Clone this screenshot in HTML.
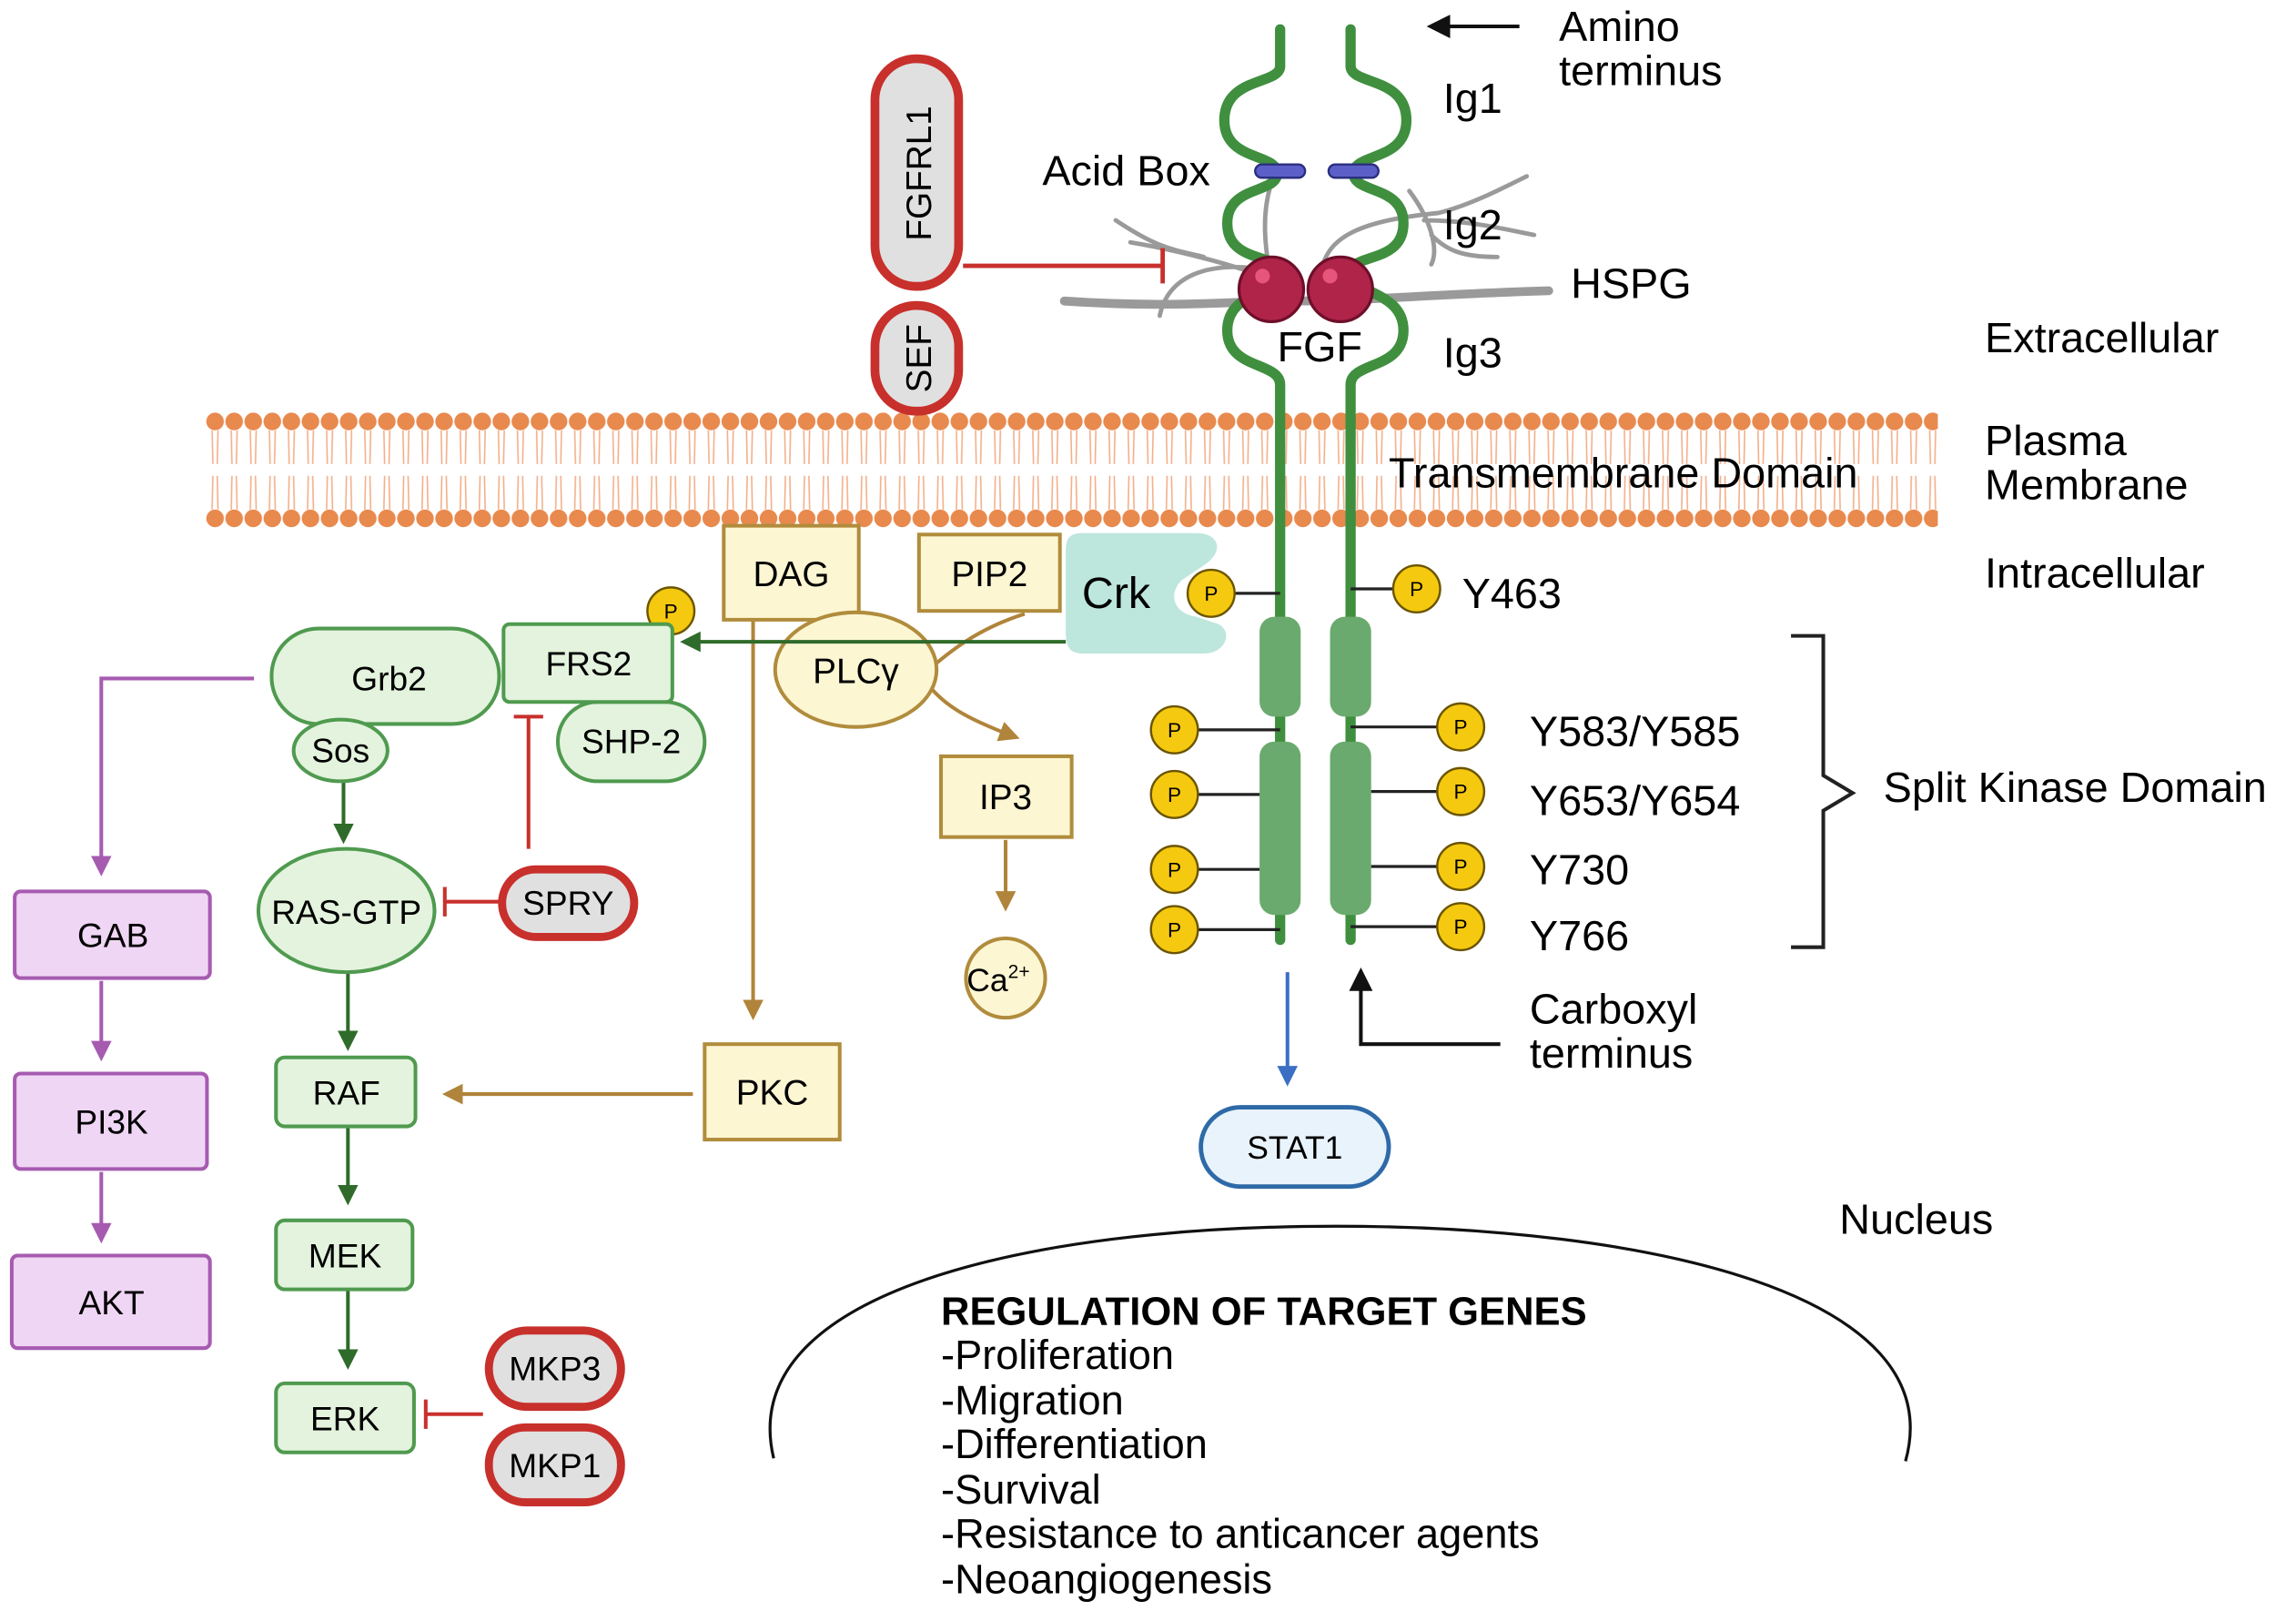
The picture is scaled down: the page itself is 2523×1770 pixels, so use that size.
<!DOCTYPE html>
<html><head><meta charset="utf-8"><style>
html,body{margin:0;padding:0;background:#fff;}
svg{display:block;}
text{font-family:"Liberation Sans",sans-serif;}
</style></head><body>
<svg width="2523" height="1770" viewBox="0 0 1564 1097" preserveAspectRatio="none" xmlns="http://www.w3.org/2000/svg">
<defs>
<pattern id="mem" x="140" y="0" width="13" height="1097" patternUnits="userSpaceOnUse">
<circle cx="6.5" cy="287" r="6" fill="#e8894e"/>
<circle cx="6.5" cy="353" r="6" fill="#e8894e"/>
<path d="M4.5,293 L5,316 M8.5,293 L8,316 M4.5,347 L5,324 M8.5,347 L8,324" stroke="#f2b08a" stroke-width="1"/>
</pattern>
<marker id="ag2" viewBox="0 0 10 10" markerWidth="14" markerHeight="14" refX="8" refY="5" orient="auto" markerUnits="userSpaceOnUse"><path d="M0,0 L10,5 L0,10z" fill="#2f6b2a"/></marker>
<marker id="ap" viewBox="0 0 10 10" markerWidth="14" markerHeight="14" refX="8" refY="5" orient="auto" markerUnits="userSpaceOnUse"><path d="M0,0 L10,5 L0,10z" fill="#a65bb0"/></marker>
<marker id="ao" viewBox="0 0 10 10" markerWidth="14" markerHeight="14" refX="8" refY="5" orient="auto" markerUnits="userSpaceOnUse"><path d="M0,0 L10,5 L0,10z" fill="#b0843a"/></marker>
<marker id="ab" viewBox="0 0 10 10" markerWidth="14" markerHeight="14" refX="8" refY="5" orient="auto" markerUnits="userSpaceOnUse"><path d="M0,0 L10,5 L0,10z" fill="#3b6fc4"/></marker>
<marker id="ak" viewBox="0 0 10 10" markerWidth="16" markerHeight="16" refX="8" refY="5" orient="auto" markerUnits="userSpaceOnUse"><path d="M0,0 L10,5 L0,10z" fill="#111"/></marker>
</defs>

<rect x="140" y="278" width="1180" height="84" fill="url(#mem)"/>

<!-- HSPG -->
<g stroke="#9a9a9a" fill="none" stroke-linecap="round">
<path d="M725,205 C800,210 840,205 880,205 C930,205 980,200 1055,198" stroke-width="6"/>
<path d="M790,215 C795,190 820,175 870,185" stroke-width="3"/>
<path d="M770,165 C800,170 840,180 865,190 M760,150 C790,170 800,170 820,175" stroke-width="3"/>
<path d="M865,185 C860,160 860,135 870,115" stroke-width="3"/>
<path d="M900,190 C900,160 930,150 980,145 C1000,140 1020,130 1040,120 M970,150 C1000,150 1020,155 1045,160 M960,130 C975,150 980,170 975,180 M975,160 C985,170 995,175 1020,175" stroke-width="3"/>
</g>

<g stroke="#3f8f3f" stroke-width="7" fill="none" stroke-linecap="round">
<path d="M872,20 L872,45 C872,58 834,52 834,82 C834,110 870,104 870,118 C870,132 836,126 836,152 C836,180 872,172 872,186 C872,200 836,198 836,225 C836,252 872,246 872,262 L872,640"/>
<path d="M920,20 L920,45 C920,58 958,52 958,82 C958,110 922,104 922,118 C922,132 956,126 956,152 C956,180 920,172 920,186 C920,200 956,198 956,225 C956,252 920,246 920,262 L920,640"/>
</g>
<rect x="858" y="420" width="28" height="68" rx="10" fill="#6aaa6e"/>
<rect x="858" y="505" width="28" height="118" rx="10" fill="#6aaa6e"/>
<rect x="906" y="420" width="28" height="68" rx="10" fill="#6aaa6e"/>
<rect x="906" y="505" width="28" height="118" rx="10" fill="#6aaa6e"/>

<rect x="855" y="112" width="34" height="9" rx="4.5" fill="#5b5fc7" stroke="#2b2f80" stroke-width="1.5"/>
<rect x="905" y="112" width="34" height="9" rx="4.5" fill="#5b5fc7" stroke="#2b2f80" stroke-width="1.5"/>

<circle cx="866" cy="197" r="22" fill="#b0244a" stroke="#6e0f2a" stroke-width="2"/>
<circle cx="913" cy="197" r="22" fill="#b0244a" stroke="#6e0f2a" stroke-width="2"/>
<circle cx="860" cy="188" r="5" fill="#e8557a"/>
<circle cx="906" cy="188" r="5" fill="#e8557a"/>

<line x1="1035" y1="18" x2="975" y2="18" stroke="#111" stroke-width="2.5" marker-end="url(#ak)"/>
<g font-size="29">
<text x="1062" y="28">Amino</text>
<text x="1062" y="58">terminus</text>
<text x="983" y="77">Ig1</text>
<text x="710" y="126">Acid Box</text>
<text x="983" y="163">Ig2</text>
<text x="1070" y="203">HSPG</text>
<text x="870" y="246">FGF</text>
<text x="983" y="250">Ig3</text>
<text x="1352" y="240">Extracellular</text>
<text x="1352" y="310">Plasma</text>
<text x="1352" y="340">Membrane</text>
<text x="946" y="332">Transmembrane Domain</text>
<text x="1352" y="400">Intracellular</text>
</g>

<rect x="596" y="40" width="57" height="155" rx="28" fill="#e0e0e0" stroke="#c8302c" stroke-width="6"/>
<text transform="translate(634,118) rotate(-90)" font-size="24" text-anchor="middle">FGFRL1</text>
<rect x="596" y="208" width="57" height="72" rx="28" fill="#e0e0e0" stroke="#c8302c" stroke-width="6"/>
<text transform="translate(634,244) rotate(-90)" font-size="24" text-anchor="middle">SEF</text>
<path d="M656,181 L792,181 M792,169 L792,193" stroke="#c8302c" stroke-width="3" fill="none"/>

<path d="M738,363 L815,363 C830,363 835,375 820,385 L805,395 C795,405 800,418 815,420 L830,425 C840,430 835,445 820,445 L738,445 C728,445 726,440 726,430 L726,375 C726,365 730,363 738,363z" fill="#bde6dc"/>
<text x="737" y="414" font-size="30">Crk</text>

<g stroke="#222" stroke-width="2">
<line x1="841" y1="404" x2="872" y2="404"/><line x1="981" y1="401" x2="920" y2="401"/>
<line x1="816" y1="497" x2="872" y2="497"/><line x1="979" y1="495" x2="920" y2="495"/>
<line x1="816" y1="541" x2="858" y2="541"/><line x1="979" y1="539" x2="934" y2="539"/>
<line x1="816" y1="592" x2="858" y2="592"/><line x1="979" y1="590" x2="934" y2="590"/>
<line x1="816" y1="633" x2="872" y2="633"/><line x1="979" y1="631" x2="920" y2="631"/>
</g>
<g fill="#f5c90f" stroke="#6b5500" stroke-width="1.5">
<circle cx="825" cy="404" r="16"/><circle cx="965" cy="401" r="16"/>
<circle cx="800" cy="497" r="16"/><circle cx="995" cy="495" r="16"/>
<circle cx="800" cy="541" r="16"/><circle cx="995" cy="539" r="16"/>
<circle cx="800" cy="592" r="16"/><circle cx="995" cy="590" r="16"/>
<circle cx="800" cy="633" r="16"/><circle cx="995" cy="631" r="16"/>
<circle cx="457" cy="416" r="16"/>
</g>
<g font-size="14" text-anchor="middle">
<text x="825" y="409">P</text><text x="965" y="406">P</text>
<text x="800" y="502">P</text><text x="995" y="500">P</text>
<text x="800" y="546">P</text><text x="995" y="544">P</text>
<text x="800" y="597">P</text><text x="995" y="595">P</text>
<text x="800" y="638">P</text><text x="995" y="636">P</text>
<text x="457" y="421">P</text>
</g>
<g font-size="29">
<text x="996" y="414">Y463</text>
<text x="1042" y="508">Y583/Y585</text>
<text x="1042" y="555">Y653/Y654</text>
<text x="1042" y="602">Y730</text>
<text x="1042" y="647">Y766</text>
<text x="1283" y="546">Split Kinase Domain</text>
<text x="1042" y="697">Carboxyl</text>
<text x="1042" y="727">terminus</text>
<text x="1253" y="840">Nucleus</text>
</g>
<path d="M1220,433 L1242,433 L1242,528 L1262,540 L1242,552 L1242,645 L1220,645" stroke="#222" stroke-width="2.5" fill="none"/>
<path d="M1022,711 L927,711 L927,662" stroke="#111" stroke-width="2.5" fill="none" marker-end="url(#ak)"/>

<line x1="877" y1="662" x2="877" y2="737" stroke="#3b6fc4" stroke-width="2.5" marker-end="url(#ab)"/>
<rect x="818" y="754" width="128" height="54" rx="27" fill="#e9f3fb" stroke="#2e6aa8" stroke-width="3"/>
<text x="882" y="789" font-size="22" text-anchor="middle">STAT1</text>

<path d="M527,993 C500,880 700,835 910,835 C1120,835 1330,880 1298,995" stroke="#111" stroke-width="2" fill="none"/>
<text x="641" y="902" font-size="27" font-weight="bold">REGULATION OF TARGET GENES</text>
<g font-size="28">
<text x="641" y="932">-Proliferation</text>
<text x="641" y="963">-Migration</text>
<text x="641" y="993">-Differentiation</text>
<text x="641" y="1024">-Survival</text>
<text x="641" y="1054">-Resistance to anticancer agents</text>
<text x="641" y="1085">-Neoangiogenesis</text>
</g>

<g stroke="#b0843a" stroke-width="2.5" fill="none">
<line x1="513" y1="422" x2="513" y2="692" marker-end="url(#ao)"/>
<path d="M698,418 C660,430 640,450 628,460 C640,480 660,490 692,502" marker-end="url(#ao)"/>
<line x1="685" y1="572" x2="685" y2="618" marker-end="url(#ao)"/>
<line x1="472" y1="745" x2="304" y2="745" marker-end="url(#ao)"/>
</g>
<g fill="#fdf6d3" stroke="#b08c3c" stroke-width="2.5">
<rect x="493" y="358" width="92" height="64"/>
<rect x="626" y="364" width="96" height="52"/>
<rect x="641" y="515" width="89" height="55"/>
<rect x="480" y="711" width="92" height="65"/>
<circle cx="685" cy="666" r="27"/>
<ellipse cx="583" cy="456" rx="55" ry="39"/>
</g>
<g font-size="24" text-anchor="middle">
<text x="539" y="399">DAG</text>
<text x="674" y="399">PIP2</text>
<text x="685" y="551">IP3</text>
<text x="526" y="752">PKC</text>
<text x="583" y="465">PLCγ</text>
<text x="680" y="675" font-size="22">Ca<tspan font-size="13" dy="-9">2+</tspan></text>
</g>

<g stroke="#2f6b2a" stroke-width="2.5" fill="none">
<line x1="726" y1="437" x2="466" y2="437" marker-end="url(#ag2)"/>
<line x1="234" y1="532" x2="234" y2="572" marker-end="url(#ag2)"/>
<line x1="237" y1="662" x2="237" y2="713" marker-end="url(#ag2)"/>
<line x1="237" y1="767" x2="237" y2="818" marker-end="url(#ag2)"/>
<line x1="237" y1="878" x2="237" y2="930" marker-end="url(#ag2)"/>
</g>
<g stroke="#a65bb0" stroke-width="2.5" fill="none">
<path d="M173,462 L69,462 L69,594" marker-end="url(#ap)"/>
<line x1="69" y1="668" x2="69" y2="720" marker-end="url(#ap)"/>
<line x1="69" y1="798" x2="69" y2="844" marker-end="url(#ap)"/>
</g>
<g stroke="#c8302c" stroke-width="2.5" fill="none">
<path d="M360,578 L360,488 M350,488 L370,488"/>
<path d="M342,614 L303,614 M303,604 L303,624"/>
<path d="M329,963 L290,963 M290,953 L290,973"/>
</g>

<g fill="#e3f3dd" stroke="#4f9a4f" stroke-width="2.5">
<rect x="185" y="428" width="155" height="65" rx="32"/>
<rect x="380" y="478" width="100" height="54" rx="27"/>
<rect x="343" y="425" width="115" height="53" rx="4"/>
<ellipse cx="232" cy="511" rx="32" ry="21"/>
<ellipse cx="236" cy="620" rx="60" ry="42"/>
<rect x="188" y="720" width="95" height="47" rx="6"/>
<rect x="188" y="831" width="93" height="47" rx="6"/>
<rect x="188" y="942" width="94" height="47" rx="6"/>
</g>
<g font-size="23" text-anchor="middle">
<text x="265" y="470">Grb2</text>
<text x="401" y="460">FRS2</text>
<text x="430" y="513">SHP-2</text>
<text x="232" y="519">Sos</text>
<text x="236" y="629">RAS-GTP</text>
<text x="236" y="752">RAF</text>
<text x="235" y="863">MEK</text>
<text x="235" y="974">ERK</text>
</g>
<g fill="#e0e0e0" stroke="#c8302c" stroke-width="5.5">
<rect x="342" y="592" width="90" height="46" rx="23"/>
<rect x="333" y="906" width="90" height="52" rx="26"/>
<rect x="333" y="972" width="90" height="51" rx="25"/>
</g>
<g font-size="23" text-anchor="middle">
<text x="387" y="623">SPRY</text>
<text x="378" y="940">MKP3</text>
<text x="378" y="1006">MKP1</text>
</g>
<g fill="#f0d6f5" stroke="#a65bb0" stroke-width="2.5">
<rect x="10" y="607" width="133" height="59" rx="4"/>
<rect x="10" y="731" width="131" height="65" rx="4"/>
<rect x="8" y="855" width="135" height="63" rx="4"/>
</g>
<g font-size="23" text-anchor="middle">
<text x="77" y="645">GAB</text>
<text x="76" y="772">PI3K</text>
<text x="76" y="895">AKT</text>
</g>
</svg>
</body></html>
